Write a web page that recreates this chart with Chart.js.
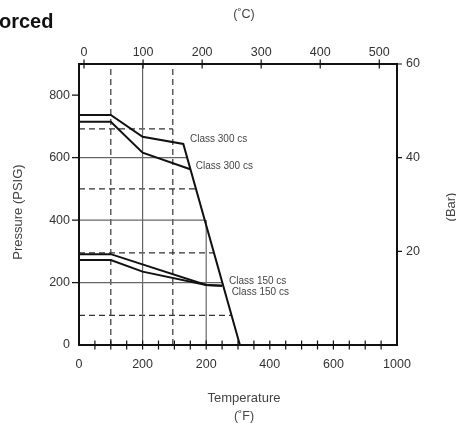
<!DOCTYPE html>
<html lang="en">
<head>
<meta charset="UTF-8">
<title>Pressure / Temperature rating</title>
<script src="https://cdn.jsdelivr.net/npm/chart.js"></script>
<style>
  html, body { margin: 0; padding: 0; background: #fff; }
  #wrap { width: 456px; height: 423px; }
</style>
</head>
<body>
<div id="wrap"><canvas id="rating" width="456" height="423"></canvas></div>
<script>
// rating curves: x in bottom-axis units, y in PSIG
const class300UpperF   = [0, 100, 200, 328, 506];
const class300UpperPsi = [737, 737, 667, 644, 0];
const class300LowerF   = [0, 100, 200, 350];
const class300LowerPsi = [715, 715, 616, 563];
const class150UpperF   = [0, 100, 400, 450];
const class150UpperPsi = [291, 291, 192, 190];
const class150LowerF   = [0, 100, 200, 400, 450];
const class150LowerPsi = [272, 272, 235, 192, 190];

// guide lines [x1, y1, x2, y2] in axis units
const solidGuides  = [[200, 0, 200, 900], [400, 0, 400, 400], [0, 600, 340, 600], [0, 400, 395, 400], [0, 200, 450, 200]];
const dashedGuides = [[100, 0, 100, 900], [295, 0, 295, 900], [0, 692, 295, 692], [0, 500, 368, 500], [0, 295, 424, 295], [0, 95, 480, 95]];

// axes
const bottomTickValues = [0, 200, 400, 600, 800, 1000];
const bottomTickLabels = ['0', '200', '200', '400', '600', '1000'];
const topTickValues    = [0, 100, 200, 300, 400, 500];
const leftTickValues   = [0, 200, 400, 600, 800];
const rightTickValues  = [20, 40, 60];

// curve labels
const curveLabels   = ['Class 300 cs', 'Class 300 cs', 'Class 150 cs', 'Class 150 cs'];
const curveLabelF   = [349, 367, 472, 480];
const curveLabelPsi = [658, 573, 205, 170];

const FONT = '"Liberation Sans", Arial, sans-serif';

function pts(xs, ys) {
    return xs.map((x, i) => ({ x: x, y: ys[i] }));
}

function curve(xs, ys) {
    return {
        data: pts(xs, ys),
        showLine: true,
        borderColor: '#111',
        borderWidth: 2,
        pointRadius: 0,
        tension: 0,
        order: 1
    };
}

function guide(seg, dashed) {
    return {
        data: [{ x: seg[0], y: seg[1] }, { x: seg[2], y: seg[3] }],
        showLine: true,
        borderColor: dashed ? '#333' : '#666',
        borderWidth: 1.2,
        borderDash: dashed ? [6, 4] : [],
        pointRadius: 0,
        order: 2
    };
}

const datasets = [
    curve(class300UpperF, class300UpperPsi),
    curve(class300LowerF, class300LowerPsi),
    curve(class150UpperF, class150UpperPsi),
    curve(class150LowerF, class150LowerPsi)
].concat(solidGuides.map(s => guide(s, false)), dashedGuides.map(s => guide(s, true)));

function fixedTicks(values) {
    return scale => { scale.ticks = values.map(v => ({ value: v })); };
}

const tickFont = { family: FONT, size: 12.5 };
const noGrid = { display: false, drawTicks: false };

const framePlugin = {
    id: 'frame',
    afterDatasetsDraw(chart) {
        const { ctx, chartArea: a, scales } = chart;
        ctx.save();
        ctx.strokeStyle = '#111';
        ctx.lineWidth = 2;
        ctx.strokeRect(a.left, a.top, a.right - a.left, a.bottom - a.top);

        ctx.lineWidth = 1.2;
        ctx.beginPath();
        for (let v = 50; v < 1000; v += 50) {
            const x = scales.x.getPixelForValue(v);
            ctx.moveTo(x, a.bottom - 4.5);
            ctx.lineTo(x, a.bottom + 4.5);
        }
        topTickValues.forEach(v => {
            const x = scales.x2.getPixelForValue(v);
            ctx.moveTo(x, a.top - 4.5);
            ctx.lineTo(x, a.top + 4.5);
        });
        leftTickValues.filter(v => v > 0).forEach(v => {
            const y = scales.y.getPixelForValue(v);
            ctx.moveTo(a.left - 7, y);
            ctx.lineTo(a.left, y);
        });
        rightTickValues.forEach(v => {
            const y = scales.y2.getPixelForValue(v);
            ctx.moveTo(a.right, y);
            ctx.lineTo(a.right + 5, y);
        });
        ctx.stroke();
        ctx.restore();
    },
    afterDraw(chart) {
        const { ctx, scales } = chart;
        ctx.save();
        ctx.fillStyle = '#111';
        ctx.font = 'bold 20px ' + FONT;
        ctx.textAlign = 'left';
        ctx.textBaseline = 'alphabetic';
        ctx.fillText('orced', -1, 28);

        ctx.fillStyle = '#444';
        ctx.textAlign = 'center';
        ctx.textBaseline = 'middle';
        ctx.font = '12.5px ' + FONT;
        ctx.fillText('(˚C)', 244, 15);
        ctx.fillText('(˚F)', 244, 417);
        ctx.font = '13px ' + FONT;
        ctx.fillText('Temperature', 244, 398);

        ctx.save();
        ctx.translate(18, 212);
        ctx.rotate(-Math.PI / 2);
        ctx.fillText('Pressure (PSIG)', 0, 0);
        ctx.restore();

        ctx.save();
        ctx.translate(451, 207);
        ctx.rotate(-Math.PI / 2);
        ctx.fillText('(Bar)', 0, 0);
        ctx.restore();

        ctx.font = '10px ' + FONT;
        ctx.textAlign = 'left';
        curveLabels.forEach((t, i) => {
            ctx.fillText(t, scales.x.getPixelForValue(curveLabelF[i]), scales.y.getPixelForValue(curveLabelPsi[i]));
        });
        ctx.restore();
    }
};

new Chart(document.getElementById('rating'), {
    type: 'scatter',
    data: { datasets: datasets },
    options: {
        responsive: false,
        animation: false,
        devicePixelRatio: 1,
        layout: { padding: 0 },
        plugins: { legend: { display: false }, tooltip: { enabled: false } },
        scales: {
            x: {
                type: 'linear', position: 'bottom', min: 0, max: 1000,
                grid: noGrid, border: { display: false },
                afterBuildTicks: fixedTicks(bottomTickValues),
                afterFit: s => { s.height = 78; },
                ticks: {
                    autoSkip: false, maxRotation: 0, padding: 12, color: '#333', font: tickFont,
                    callback: (v, i) => bottomTickLabels[i]
                }
            },
            x2: {
                type: 'linear', position: 'top', min: -8.5, max: 530,
                grid: noGrid, border: { display: false },
                afterBuildTicks: fixedTicks(topTickValues),
                afterFit: s => { s.height = 64; },
                ticks: { autoSkip: false, maxRotation: 0, padding: 4, color: '#333', font: tickFont }
            },
            y: {
                type: 'linear', position: 'left', min: 0, max: 900,
                grid: noGrid, border: { display: false },
                afterBuildTicks: fixedTicks(leftTickValues),
                afterFit: s => { s.width = 79; },
                ticks: { autoSkip: false, padding: 9, color: '#333', font: tickFont }
            },
            y2: {
                type: 'linear', position: 'right', min: 0, max: 60,
                grid: noGrid, border: { display: false },
                afterBuildTicks: fixedTicks(rightTickValues),
                afterFit: s => { s.width = 59; },
                ticks: { autoSkip: false, padding: 9, color: '#333', font: tickFont }
            }
        }
    },
    plugins: [framePlugin]
});
</script>
</body>
</html>
